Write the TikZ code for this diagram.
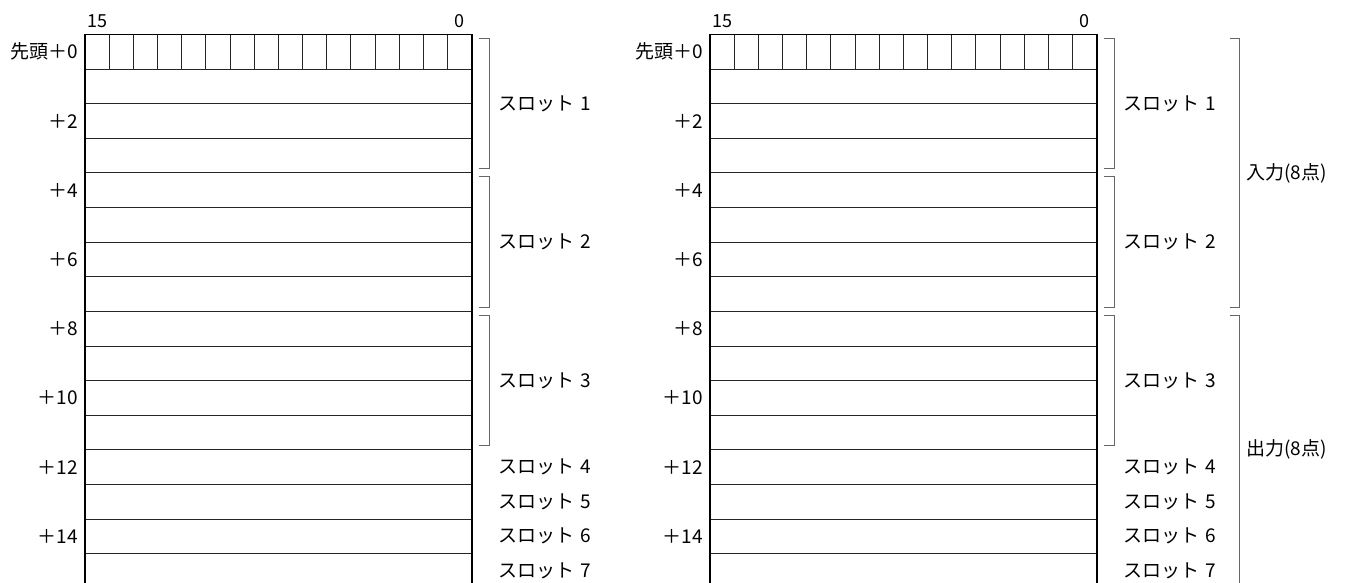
\documentclass[tikz,border=0pt]{standalone}
\usepackage{fontspec}
\setmainfont{Noto Sans CJK JP}
\begin{document}
\begin{tikzpicture}[x=1pt,y=-1pt,
  rowline/.style={draw=black!85,line width=0.8pt},
  border/.style={draw=black,line width=1.8pt},
  brk/.style={draw=black!60,line width=1pt},
  lab/.style={inner sep=0pt,font=\fontsize{19}{22}\selectfont},
  hlab/.style={inner sep=0pt,font=\fontsize{18}{21}\selectfont},
  rlab/.style={lab,anchor=east},
  slab/.style={lab,anchor=west}]
\useasboundingbox (0,0) rectangle (1345,583);
\clip (0,0) rectangle (1345,583);
\def\rh{34.6}
\def\tt{34.5}
\def\tw{386.7}
\foreach \ox/\nm in {85/L,710/R}{
  \foreach \i in {1,...,15} \draw[rowline] (\ox,{\tt+\i*\rh}) -- ++(\tw,0);
  \foreach \j in {1,...,15} \draw[rowline] ({\ox+\j*\tw/16},\tt) -- ++(0,\rh);
  \draw[border] (\ox,600) -- (\ox,\tt) -- ({\ox+\tw},\tt) -- ({\ox+\tw},600);
  \node[hlab] (b15\nm) at ({\ox+\tw/32},21) {15};
  \node[hlab] (b0\nm) at ({\ox+\tw-\tw/32},21) {0};
  \node[rlab] (a0\nm) at ({\ox-7},{\tt+0.5*\rh}) {先頭＋0};
  \foreach \k in {2,4,...,14}
    \node[rlab] (a\k\nm) at ({\ox-7},{\tt+(\k+0.5)*\rh}) {＋\k};
  % slot brackets
  \foreach \s in {0,1,2}{
    \draw[brk] ({\ox+\tw+7.3},{\tt+4*\s*\rh+4}) -- ++(10,0) -- ({\ox+\tw+17.3},{\tt+4*(\s+1)*\rh-4}) -- ++(-10,0);
  }
  \node[slab] (s1\nm) at ({\ox+413},{\tt+2*\rh}) {スロット\hspace{0.35em}1};
  \node[slab] (s2\nm) at ({\ox+413},{\tt+6*\rh}) {スロット\hspace{0.35em}2};
  \node[slab] (s3\nm) at ({\ox+413},{\tt+10*\rh}) {スロット\hspace{0.35em}3};
  \node[slab] (s4\nm) at ({\ox+413},{\tt+12.5*\rh}) {スロット\hspace{0.35em}4};
  \node[slab] (s5\nm) at ({\ox+413},{\tt+13.5*\rh}) {スロット\hspace{0.35em}5};
  \node[slab] (s6\nm) at ({\ox+413},{\tt+14.5*\rh}) {スロット\hspace{0.35em}6};
  \node[slab] (s7\nm) at ({\ox+413},{\tt+15.5*\rh}) {スロット\hspace{0.35em}7};
}
% input / output brackets
\draw[brk] (1230,{\tt+4}) -- ++(9,0) -- (1239,{\tt+8*\rh-4}) -- ++(-9,0);
\draw[brk] (1230,{\tt+8*\rh+4}) -- ++(9,0) -- (1239,{\tt+16*\rh-4}) -- ++(-9,0);
\node[slab] (inp) at (1246,{\tt+4*\rh}) {入力(8点)};
\node[slab] (outp) at (1246,{\tt+12*\rh}) {出力(8点)};
\end{tikzpicture}
\end{document}
